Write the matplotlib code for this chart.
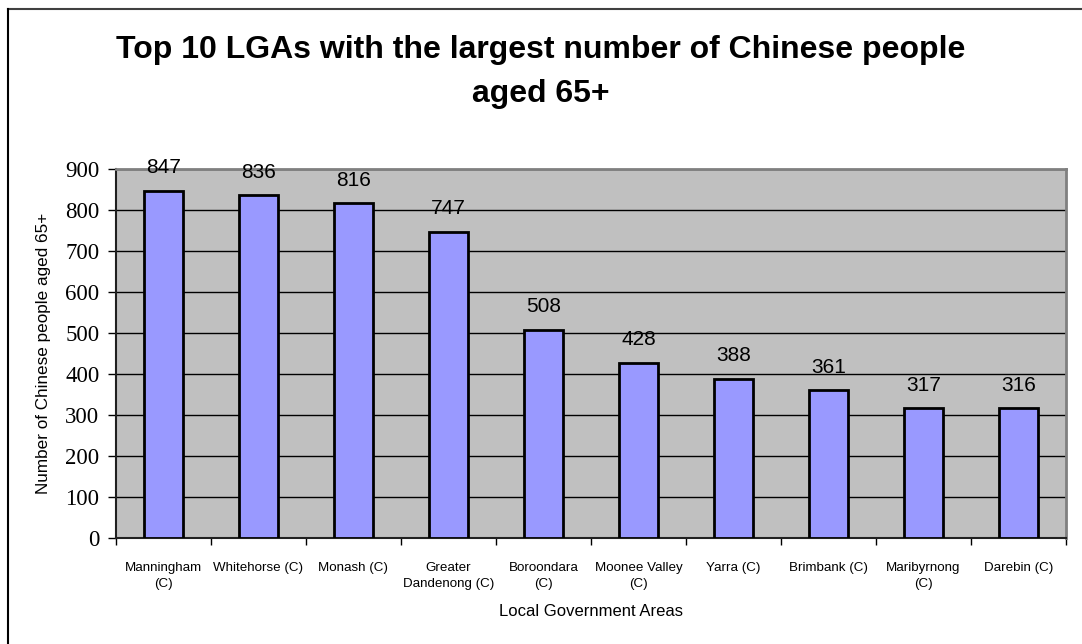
import matplotlib
matplotlib.use("Agg")
import matplotlib.pyplot as plt
from matplotlib.lines import Line2D
import numpy as np

# LGAs ranked by number of Chinese residents aged 65+
lgas = ["Manningham\n(C)", "Whitehorse (C)", "Monash (C)", "Greater\nDandenong (C)",
        "Boroondara\n(C)", "Moonee Valley\n(C)", "Yarra (C)", "Brimbank (C)",
        "Maribyrnong\n(C)", "Darebin (C)"]
counts = [847, 836, 816, 747, 508, 428, 388, 361, 317, 316]
yticks = [0, 100, 200, 300, 400, 500, 600, 700, 800, 900]

plt.rcParams["font.family"] = "Liberation Sans"

fig = plt.figure(figsize=(10.82, 6.44), dpi=100)
ax = fig.add_axes([0.1072, 0.1646, 0.878, 0.573])
ax.set_facecolor("#C0C0C0")

x = np.arange(len(lgas))
ax.bar(x, counts, width=0.42, color="#9999FF", edgecolor="black", linewidth=2, zorder=3)

for xi, v in zip(x, counts):
    ax.annotate(str(v), (xi, v), xytext=(0, 16.5), textcoords="offset points",
                ha="center", va="center", fontsize=15)

ax.set_xlim(-0.5, len(lgas) - 0.5)
ax.set_ylim(0, 900)
ax.set_yticks(yticks)
ax.set_yticklabels([str(t) for t in yticks], family="Liberation Serif", fontsize=16.5)
ax.yaxis.grid(True, color="black", linewidth=1, zorder=1)
ax.set_axisbelow(True)

# category labels centred, tick marks on category boundaries
ax.set_xticks(x)
ax.set_xticklabels(lgas, fontsize=9.6, linespacing=1.5)
ax.tick_params(axis="x", which="major", length=0, pad=17)
ax.set_xticks(np.arange(len(lgas) + 1) - 0.5, minor=True)
ax.tick_params(axis="x", which="minor", length=5, width=1, direction="out")
ax.tick_params(axis="y", length=6, width=1, direction="out", pad=6)

for side in ("top", "right"):
    ax.spines[side].set_color("#808080")
    ax.spines[side].set_linewidth(2)
for side in ("left", "bottom"):
    ax.spines[side].set_color("#202020")
    ax.spines[side].set_linewidth(1.5)

ax.set_ylabel("Number of Chinese people aged 65+", fontsize=12.3, labelpad=10)
ax.set_xlabel("Local Government Areas", fontsize=12, labelpad=10)

fig.suptitle("Top 10 LGAs with the largest number of Chinese people\naged 65+",
             fontsize=23, fontweight="bold", y=0.946, linespacing=1.64)

# chart frame lines along the top and left edges
fig.add_artist(Line2D([0.0074, 1.0], [0.986, 0.986], color="#404040", linewidth=1.5))
fig.add_artist(Line2D([0.0074, 0.0074], [0.0, 0.986], color="black", linewidth=1.5))

fig.savefig("out.png", dpi=100)
